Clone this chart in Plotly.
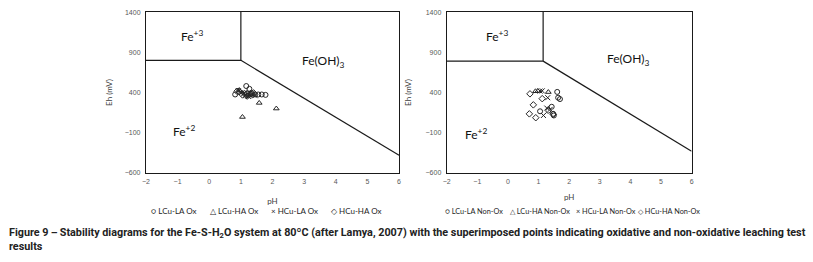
import plotly.graph_objects as go

# ---------------- data ----------------
ph_ticks = [-2, -1, 0, 1, 2, 3, 4, 5, 6]
eh_ticks = [-600, -100, 400, 900, 1400]

# stability-field boundaries (pH, Eh)
left_bound_ph = [-2, 1, 1, None, 1, 6]
left_bound_eh = [800, 800, 1400, None, 800, -380]
right_bound_ph = [-2, 1.15, 1.15, None, 1.15, 6]
right_bound_eh = [790, 790, 1400, None, 790, -330]

# field labels
left_fields = ["Fe<sup>+3</sup>", "Fe(OH)<sub>3</sub>", "Fe<sup>+2</sup>"]
left_field_ph = [-0.55, 3.6, -0.8]
left_field_eh = [1100, 780, -80]
right_fields = ["Fe<sup>+3</sup>", "Fe(OH)<sub>3</sub>", "Fe<sup>+2</sup>"]
right_field_ph = [-0.35, 3.95, -1.05]
right_field_eh = [1100, 810, -115]

# oxidative leaching (left)
ox_names = ["LCu-LA Ox", "LCu-HA Ox", "HCu-LA Ox", "HCu-HA Ox"]
ox_ph = [
    [0.82, 1.17, 1.27, 1.45, 1.55, 1.66, 1.78, 1.20, 1.35],
    [1.05, 1.58, 2.12, 0.95, 1.30],
    [0.92, 1.00, 1.08, 1.15, 1.22, 1.30, 1.38, 1.45, 1.10, 1.25],
    [0.88, 0.95, 1.05, 1.12, 1.20, 1.33, 1.40],
]
ox_eh = [
    [375, 480, 445, 375, 375, 375, 370, 385, 390],
    [95, 270, 200, 430, 395],
    [420, 400, 380, 360, 355, 365, 375, 360, 395, 350],
    [415, 410, 370, 385, 355, 380, 395],
]

# non-oxidative leaching (right)
nonox_names = ["LCu-LA Non-Ox", "LCu-HA Non-Ox", "HCu-LA Non-Ox", "HCu-HA Non-Ox"]
nonox_ph = [
    [1.61, 1.64, 1.70, 1.43, 1.05, 1.32, 1.48, 1.50],
    [0.90, 0.98, 1.32],
    [1.05, 1.12, 1.30, 1.27, 1.16, 1.38],
    [0.72, 1.12, 0.83, 0.70, 0.91, 1.48],
]
nonox_eh = [
    [407, 335, 318, 222, 166, 174, 134, 114],
    [415, 418, 405],
    [418, 420, 335, 206, 114, 190],
    [383, 323, 246, 134, 86, 128],
]

caption = ("Figure 9\u2009\u2013\u2009Stability diagrams for the Fe-S-H<sub>2</sub>O system at 80ºC (after Lamya, 2007) "
           "with the superimposed points indicating oxidative and non-oxidative leaching test<br>results")

# ---------------- styling ----------------
symbols = ["circle-open", "triangle-up-open", "x-thin-open", "diamond-open"]
glyphs = ["\u25CB", "\u25B3", "\u00D7", "\u25C7"]
mcol = "#262626"

W, H = 813, 262
def px(x):
    return x / W
def py(y):
    return 1 - y / H

fig = go.Figure()

def add_panel(xa, ya, bph, beh, names, phs, ehs):
    fig.add_trace(go.Scatter(x=bph, y=beh, mode="lines", xaxis=xa, yaxis=ya,
                             line=dict(color="#1a1a1a", width=1.2), showlegend=False,
                             hoverinfo="skip", connectgaps=False))
    for i, n in enumerate(names):
        fig.add_trace(go.Scatter(
            x=phs[i], y=ehs[i], mode="markers", name=n, xaxis=xa, yaxis=ya,
            showlegend=False,
            marker=dict(symbol=symbols[i], size=5,
                        color=mcol, line=dict(color=mcol, width=1))))

add_panel("x", "y", left_bound_ph, left_bound_eh, ox_names, ox_ph, ox_eh)
add_panel("x2", "y2", right_bound_ph, right_bound_eh, nonox_names, nonox_ph, nonox_eh)

ydom = [py(173.5), py(8.3)]
axis_common = dict(showgrid=False, zeroline=False, showline=True, mirror=True,
                   linecolor="#1a1a1a", linewidth=1, ticks="",
                   ticklabeloverflow="allow",
                   tickfont=dict(family="Liberation Sans", size=7, color="#595959"))
tfont = dict(family="Lato", size=8, color="#404040")

fig.update_layout(
    width=W, height=H, margin=dict(l=0, r=0, t=0, b=0),
    paper_bgcolor="white", plot_bgcolor="white", showlegend=False,
    xaxis=dict(domain=[px(143), px(398)], range=[-2, 6], tickvals=ph_ticks,
               anchor="y", ticklabelstandoff=2,
               title=dict(text="pH", standoff=14, font=tfont), **axis_common),
    yaxis=dict(domain=ydom, range=[-600, 1400], tickvals=eh_ticks, anchor="x",
               ticklabelstandoff=3,
               title=dict(text="Eh (mV)", standoff=10, font=tfont), **axis_common),
    xaxis2=dict(domain=[px(446), px(692.7)], range=[-2, 6], tickvals=ph_ticks,
                anchor="y2", ticklabelstandoff=2,
                title=dict(text="pH", standoff=10, font=tfont), **axis_common),
    yaxis2=dict(domain=ydom, range=[-600, 1400], tickvals=eh_ticks, anchor="x2",
                ticklabelstandoff=3,
                title=dict(text="Eh (mV)", standoff=12, font=tfont), **axis_common),
)

anns = []
for t, x, y in zip(left_fields, left_field_ph, left_field_eh):
    anns.append(dict(x=x, y=y, xref="x", yref="y", text=t, showarrow=False,
                     font=dict(family="Lato", size=12, color="#111")))
for t, x, y in zip(right_fields, right_field_ph, right_field_eh):
    anns.append(dict(x=x, y=y, xref="x2", yref="y2", text=t, showarrow=False,
                     font=dict(family="Lato", size=12, color="#111")))

# legends (text rows under each panel)
left_leg_x = [146, 206, 267, 327]
right_leg_x = [442, 508, 574, 637]
for i, n in enumerate(ox_names):
    anns.append(dict(x=px(left_leg_x[i]), y=py(213), xref="paper", yref="paper",
                     xanchor="left", yanchor="middle", showarrow=False,
                     text=glyphs[i] + " " + n,
                     font=dict(family="Lato", size=8, color="#262626")))
for i, n in enumerate(nonox_names):
    anns.append(dict(x=px(right_leg_x[i]), y=py(213), xref="paper", yref="paper",
                     xanchor="left", yanchor="middle", showarrow=False,
                     text=glyphs[i] + " " + n,
                     font=dict(family="Lato", size=7.3, color="#262626")))

anns.append(dict(x=px(3), y=py(226), xref="paper", yref="paper", xanchor="left",
                 yanchor="top", align="left", showarrow=False, text=caption,
                 font=dict(family="Roboto", size=10.8, color="#222222", weight="bold")))

fig.update_layout(annotations=anns)
fig.write_html("out.html", config={"displayModeBar": False},
               post_script="document.body.style.margin='0px';document.body.style.overflow='hidden';")
